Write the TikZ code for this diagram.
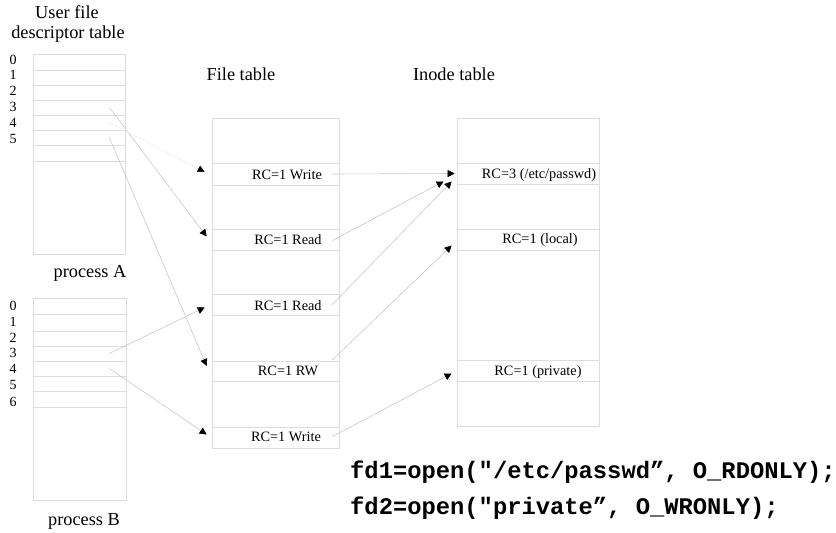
\documentclass[tikz,border=0pt]{standalone}
\usepackage{fontspec}
\setmainfont{Liberation Serif}
\newfontfamily\codefont{Liberation Mono}[Ligatures=ResetAll]
\usetikzlibrary{arrows.meta}
\definecolor{tblc}{HTML}{DDDDDD}
\definecolor{linec}{HTML}{C8C8C8}
\definecolor{fadec}{HTML}{EEEEEE}
\begin{document}
\begin{tikzpicture}[x=1pt,y=-1pt,
  tbl/.style={draw=tblc,line width=0.7pt,inner sep=0pt},
  row/.style={draw=tblc,line width=0.7pt,inner sep=0pt},
  title/.style={font=\fontsize{18.3}{20}\selectfont,inner sep=0pt},
  idx/.style={font=\fontsize{14}{15}\selectfont,inner sep=0pt},
  cell/.style={font=\fontsize{14.3}{15}\selectfont,inner sep=0pt},
  conn/.style={draw=linec,line width=0.6pt,-{Triangle[length=7pt,width=7pt,black]}},
  faint/.style={conn,draw=fadec},
  code/.style={font=\codefont\bfseries\fontsize{23.8}{26}\selectfont,inner sep=0pt,anchor=west}]
\useasboundingbox (0,0) rectangle (836,533);
% titles
\node[title] (t1) at (67,12) {User file};
\node[title] (t2) at (68,34) {descriptor table};
\node[title] (t3) at (241,74) {File table};
\node[title] (t4) at (454,74) {Inode table};
\node[title] (pa) at (90,273) {process A};
\node[title] (pb) at (84,521) {process B};
% process A table
\node[tbl,minimum width=92pt,minimum height=200pt] (A) at (79,154) {};
\foreach \i/\y/\h in {0/62/16,1/77.5/15,2/92.5/15,3/107.5/15,4/122.5/15,5/137.5/15,6/153/16}
  \node[row,minimum width=92pt,minimum height=\h pt] (a\i) at (79,\y) {};
\foreach \i/\y in {0/60,1/75,2/91,3/107,4/123,5/139}
  \node[idx] (la\i) at (13,\y) {\i};
% process B table
\node[tbl,minimum width=93pt,minimum height=202pt] (B) at (79.5,399) {};
\foreach \i/\y/\h in {0/306/16,1/322.5/17,2/338.5/15,3/353.5/15,4/368.5/15,5/383.5/15,6/399/16}
  \node[row,minimum width=93pt,minimum height=\h pt] (b\i) at (79.5,\y) {};
\foreach \i/\y in {0/306,1/322,2/338,3/353,4/369,5/385,6/402}
  \node[idx] (lb\i) at (13,\y) {\i};
% file table
\node[tbl,minimum width=127pt,minimum height=330pt] (F) at (275.5,283) {};
\node[row,minimum width=127pt,minimum height=22pt] (fw) at (275.5,174) {};
\node[row,minimum width=127pt,minimum height=21pt] (fr1) at (275.5,239.5) {};
\node[row,minimum width=127pt,minimum height=21pt] (fr2) at (275.5,304.5) {};
\node[row,minimum width=127pt,minimum height=20pt] (frw) at (275.5,371) {};
\node[row,minimum width=127pt,minimum height=21pt] (fw2) at (275.5,437.5) {};
\node[cell] (tfw) at (287,175) {RC=1 Write};
\node[cell] (tfr1) at (288,240) {RC=1 Read};
\node[cell] (tfr2) at (288,306) {RC=1 Read};
\node[cell] (tfrw) at (288,371) {RC=1 RW};
\node[cell] (tfw2) at (286,437) {RC=1 Write};
% inode table
\node[tbl,minimum width=142pt,minimum height=308pt] (I) at (528,272) {};
\node[row,minimum width=142pt,minimum height=21pt] (ip) at (528,173.5) {};
\node[row,minimum width=142pt,minimum height=21pt] (il) at (528,239.5) {};
\node[row,minimum width=142pt,minimum height=21pt] (ipv) at (528,370.5) {};
\node[cell] (tip) at (539,175) {RC=3 (/etc/passwd)};
\node[cell] (til) at (540,240) {RC=1 (local)};
\node[cell] (tipv) at (538,372) {RC=1 (private)};
% connectors from user fd tables to file table
\draw[conn] ([xshift=-16pt]a3.east) -- ([xshift=-5pt,yshift=3pt]fr1.west);
\draw[faint] ([xshift=-16pt]a4.east) -- ([xshift=-7pt,yshift=2pt]fw.west);
\draw[conn] ([xshift=-16pt]a5.east) -- ([xshift=-5pt,yshift=5pt]frw.west);
\draw[conn] ([xshift=-17pt]b3.east) -- ([xshift=-7pt,yshift=-3pt]fr2.west);
\draw[conn] ([xshift=-17pt]b4.east) -- ([xshift=-5pt,yshift=3pt]fw2.west);
% connectors from file table to inode table
\draw[conn] ([xshift=-7pt]fw.east) -- ([xshift=-2pt]ip.west);
\draw[conn] ([xshift=-7pt,yshift=-1pt]fr1.east) -- ([xshift=-13pt,yshift=-8pt]ip.west);
\draw[conn] ([xshift=-7pt]fr2.east) -- ([xshift=-5pt,yshift=-8pt]ip.west);
\draw[conn] ([xshift=-7pt,yshift=11pt]frw.east) -- ([xshift=-5pt,yshift=-6pt]il.west);
\draw[conn] ([xshift=-7pt,yshift=1pt]fw2.east) -- ([xshift=-5pt,yshift=-3pt]ipv.west);
% code
\node[code] (c1) at (350,472) {fd1=open(\char34/etc/passwd”, O\_RDONLY);};
\node[code] (c2) at (350,508) {fd2=open(\char34private”, O\_WRONLY);};
\end{tikzpicture}
\end{document}
